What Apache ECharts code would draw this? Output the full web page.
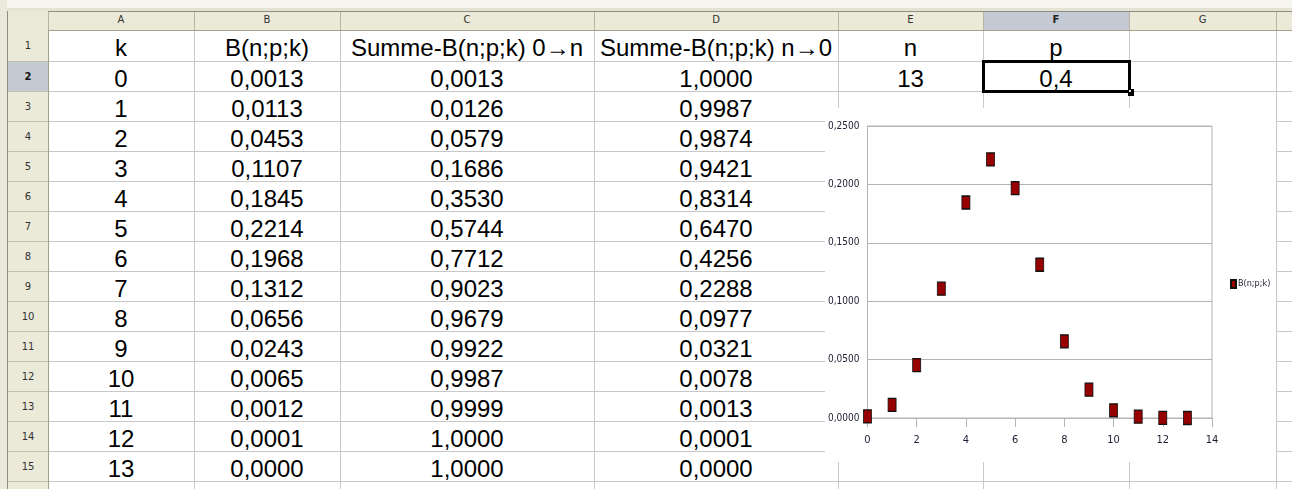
<!DOCTYPE html>
<html><head><meta charset="utf-8">
<script src="https://cdn.jsdelivr.net/npm/echarts@6/dist/echarts.min.js"></script>
<style>
html,body{margin:0;padding:0;width:1292px;height:489px;overflow:hidden;background:#fff;}
#sheet{position:absolute;left:0;top:0;width:1292px;height:489px;}
.a{position:absolute;box-sizing:border-box;}
.cell{position:absolute;text-align:center;font-family:'Liberation Sans',Arial,sans-serif;font-size:24px;color:#000;line-height:30px;white-space:nowrap;}
.hl{position:absolute;text-align:center;font-family:'DejaVu Sans',Tahoma,sans-serif;font-size:10px;color:#333;white-space:nowrap;}
</style></head><body>
<div id="sheet"></div>
<div id="chart" style="position:absolute;left:825px;top:108px;width:451px;height:354px;background:#fff;"></div>
<script>
// ---- data ----
const kValues = [0,1,2,3,4,5,6,7,8,9,10,11,12,13];
const bValues = [0.0013,0.0113,0.0453,0.1107,0.1845,0.2214,0.1968,0.1312,0.0656,0.0243,0.0065,0.0012,0.0001,0.0000];
const cumUp   = [0.0013,0.0126,0.0579,0.1686,0.3530,0.5744,0.7712,0.9023,0.9679,0.9922,0.9987,0.9999,1.0000,1.0000];
const cumDown = [1.0000,0.9987,0.9874,0.9421,0.8314,0.6470,0.4256,0.2288,0.0977,0.0321,0.0078,0.0013,0.0001,0.0000];
const headerTexts = ['k','B(n;p;k)','Summe-B(n;p;k) 0\u2192n','Summe-B(n;p;k) n\u21920','n','p'];
const nValue = '13';
const pValue = '0,4';
const colLetters = ['A','B','C','D','E','F','G',''];
const seriesName = 'B(n;p;k)';

// ---- spreadsheet ----
const sheet = document.getElementById('sheet');
function add(cls, style, text){
  const d=document.createElement('div'); d.className=cls; d.style.cssText=style;
  if(text!==undefined) d.textContent=text; sheet.appendChild(d); return d;
}
const colEdges=[48,194,340,594,838,983,1129,1276,1422];
function rowTop(r){return r===1?30:61+30*(r-2);}
function rowBot(r){return 61+30*(r-1);}
const fmt4=v=>v.toFixed(4).replace('.',',');

// frame strips
add('a','left:0;top:0;width:1292px;height:8px;background:#f6f5f0;');
add('a','left:0;top:8px;width:1292px;height:4px;background:#e4e2d3;');
add('a','left:0;top:0;width:7px;height:489px;background:#ebe9da;');
// header row
add('a','left:7px;top:11px;width:1285px;height:20px;background:#ebe9d8;border-top:1px solid #8f8e84;border-bottom:1px solid #a4a08c;');
// row header column
add('a','left:7px;top:11px;width:42px;height:478px;background:#ebe9d8;border-left:1px solid #8f8e84;border-right:1px solid #a4a08c;');
// selected headers
add('a','left:'+(colEdges[5]+1)+'px;top:12px;width:'+(colEdges[6]-colEdges[5]-1)+'px;height:18px;background:#c3cad3;');
add('a','left:8px;top:'+(rowTop(2)+1)+'px;width:40px;height:29px;background:#c3cad3;');
// column header separators and letters
for(let i=0;i<colEdges.length-1;i++){
  add('a','left:'+colEdges[i]+'px;top:12px;width:1px;height:18px;background:#b9b5a2;');
  const bold = i===5 ? 'font-weight:bold;color:#222;' : '';
  add('hl','left:'+colEdges[i]+'px;top:14px;width:'+(colEdges[i+1]-colEdges[i])+'px;'+bold, colLetters[i]);
}
// row header separators and numbers
for(let r=1;r<=16;r++){
  add('a','left:8px;top:'+rowBot(r)+'px;width:40px;height:1px;background:#c2bfab;');
  const bold = r===2 ? 'font-weight:bold;color:#111;' : '';
  add('hl','left:8px;top:'+(rowTop(r)+10)+'px;width:40px;'+bold, String(r));
}
// grid lines
for(let i=1;i<colEdges.length;i++){
  add('a','left:'+colEdges[i]+'px;top:31px;width:1px;height:458px;background:#c8c8c8;');
}
for(let r=1;r<=16;r++){
  add('a','left:49px;top:'+rowBot(r)+'px;width:1243px;height:1px;background:#c8c8c8;');
}
function cellText(col,row,text){
  add('cell','left:'+colEdges[col]+'px;top:'+(rowTop(row)+3)+'px;width:'+(colEdges[col+1]-colEdges[col])+'px;',text);
}
headerTexts.forEach((t,i)=>cellText(i,1,t));
kValues.forEach((k,i)=>{
  cellText(0,i+2,String(k));
  cellText(1,i+2,fmt4(bValues[i]));
  cellText(2,i+2,fmt4(cumUp[i]));
  cellText(3,i+2,fmt4(cumDown[i]));
});
cellText(4,2,nValue);
cellText(5,2,pValue);
// selected cell F2
add('a','left:'+(colEdges[5]-1)+'px;top:'+(rowTop(2)-1)+'px;width:'+(colEdges[6]-colEdges[5]+3)+'px;height:33px;border:3px solid #000;');
add('a','left:1128px;top:89px;width:6px;height:7px;background:#000;');
add('a','left:1129px;top:90px;width:2px;height:2px;background:#ddd;');

// ---- chart ----
const chart = echarts.init(document.getElementById('chart'));
const narrow = "'Liberation Sans Narrow','Arial Narrow','DejaVu Sans Condensed',sans-serif";
chart.setOption({
  animation:false,
  backgroundColor:'#fff',
  grid:{left:41,right:64,top:18,bottom:44,show:true,borderColor:'#b4b4b4',borderWidth:1,backgroundColor:'transparent'},
  legend:{
    data:[seriesName], left:405, top:171, orient:'vertical', padding:0,
    itemWidth:5, itemHeight:8, itemGap:4, icon:'rect',
    textStyle:{fontFamily:narrow,fontSize:9,color:'#1d1d33',padding:[0,0,0,-3]}
  },
  xAxis:{
    type:'value', min:0, max:14, interval:2,
    axisLine:{show:true,lineStyle:{color:'#b4b4b4',width:1}},
    axisTick:{show:true,length:9,lineStyle:{color:'#b4b4b4'}},
    axisLabel:{margin:17,fontFamily:narrow,fontSize:11,color:'#1d1d33'},
    splitLine:{show:false}
  },
  yAxis:{
    type:'value', min:0, max:0.25, interval:0.05,
    axisLine:{show:true,lineStyle:{color:'#b4b4b4',width:1}},
    axisTick:{show:false},
    axisLabel:{margin:8,fontFamily:narrow,fontSize:10,color:'#1d1d33',formatter:v=>fmt4(v)},
    splitLine:{show:true,lineStyle:{color:'#b4b4b4',width:1}}
  },
  series:[{
    name:seriesName, type:'scatter', symbol:'rect', symbolSize:[8,13],
    itemStyle:{color:'#960000',borderColor:'#111',borderWidth:1,opacity:1},
    data:kValues.map((k,i)=>[k,bValues[i]]),
    clip:false
  }]
});
</script>
</body></html>
